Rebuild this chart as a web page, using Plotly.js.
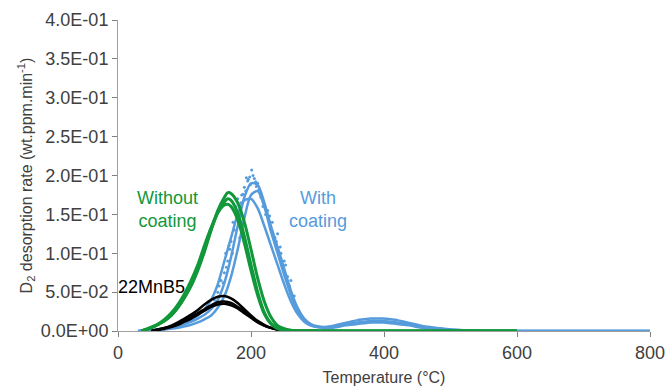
<!DOCTYPE html>
<html>
<head>
<meta charset="utf-8">
<script src="https://cdn.plot.ly/plotly-3.0.1.min.js"></script>
<style>html,body{margin:0;padding:0;background:#fff}#chart{width:670px;height:391px}</style>
</head>
<body>
<div id="chart"></div>
<script>
// Temperatures (°C)
const tGreen = [35,50,60,70,80,90,100,110,120,130,140,150,160,165,170,180,190,200,210,220,230,240,250,260,270,280,300,350,400,450,500,550,600];
const green1 = [0,0.004,0.008,0.013,0.02,0.03,0.043,0.058,0.078,0.102,0.13,0.155,0.172,0.178,0.177,0.165,0.14,0.105,0.068,0.038,0.018,0.007,0.003,0.001,0,0,0,0,0,0,0,0,0];
const green2 = [0,0.004,0.008,0.013,0.02,0.03,0.043,0.06,0.08,0.105,0.13,0.152,0.166,0.17,0.168,0.152,0.122,0.085,0.05,0.024,0.01,0.004,0.001,0,0,0,0,0,0,0,0,0,0];
const green3 = [0,0.005,0.009,0.015,0.023,0.034,0.048,0.065,0.085,0.11,0.133,0.152,0.162,0.163,0.16,0.143,0.113,0.078,0.046,0.022,0.009,0.003,0.001,0,0,0,0,0,0,0,0,0,0];

const tBlack = [50,60,70,80,90,100,110,120,130,140,150,160,170,180,190,200,210,220,230,240,250,260,280,300];
const black1 = [0,0.002,0.004,0.007,0.011,0.016,0.021,0.027,0.034,0.04,0.044,0.045,0.042,0.036,0.028,0.02,0.013,0.008,0.004,0.002,0.001,0,0,0];
const black2 = [0,0.002,0.004,0.006,0.009,0.013,0.018,0.023,0.028,0.033,0.037,0.038,0.036,0.031,0.025,0.018,0.012,0.007,0.004,0.002,0.001,0,0,0];
const black3 = [0,0.001,0.003,0.005,0.008,0.012,0.016,0.021,0.026,0.031,0.034,0.035,0.033,0.029,0.023,0.017,0.011,0.007,0.004,0.002,0.001,0,0,0];

const tBlue = [30,50,70,90,100,110,120,130,140,150,160,170,180,190,200,210,220,230,240,250,260,270,280,290,300,310,320,330,340,350,360,370,380,390,400,410,420,430,440,450,460,480,500,520,550,600,700,800];
const blue1 = [0,0.001,0.003,0.006,0.009,0.012,0.016,0.021,0.028,0.04,0.062,0.095,0.135,0.172,0.19,0.188,0.165,0.135,0.108,0.08,0.052,0.03,0.016,0.009,0.006,0.005,0.006,0.008,0.01,0.012,0.014,0.015,0.016,0.016,0.016,0.015,0.014,0.012,0.01,0.008,0.006,0.004,0.002,0.001,0,0,0,0];
const blue2 = [0,0.001,0.002,0.004,0.006,0.008,0.011,0.015,0.02,0.03,0.045,0.07,0.105,0.145,0.175,0.18,0.16,0.128,0.1,0.072,0.046,0.026,0.014,0.008,0.005,0.004,0.005,0.006,0.008,0.01,0.011,0.012,0.013,0.013,0.013,0.012,0.011,0.01,0.008,0.006,0.005,0.003,0.002,0.001,0,0,0,0];
const blue3 = [0,0.001,0.003,0.007,0.01,0.014,0.02,0.028,0.04,0.06,0.09,0.12,0.15,0.168,0.17,0.158,0.135,0.11,0.085,0.06,0.038,0.022,0.012,0.007,0.005,0.004,0.004,0.005,0.007,0.008,0.009,0.01,0.011,0.011,0.011,0.01,0.009,0.008,0.007,0.005,0.004,0.003,0.001,0.001,0,0,0,0];
// scattered individual points of the "with coating" runs
const tBlueDots = [201,198,205,195,210,190,212,185,178,225,232,240,175,170,165,160,245,250,255,183,172,208,215,192,188,228,236,168,163,158,248,258,262,203,196,218,150,155,162,167,173,177,180,186,145,152,222,230,238,244,252,260,265,199,207,193];
const blueDots  = [0.207,0.198,0.196,0.193,0.19,0.185,0.182,0.165,0.15,0.155,0.14,0.125,0.13,0.115,0.09,0.075,0.1,0.09,0.07,0.12,0.1,0.186,0.172,0.18,0.176,0.148,0.12,0.105,0.082,0.062,0.085,0.058,0.045,0.2,0.195,0.16,0.05,0.065,0.1,0.11,0.14,0.16,0.17,0.175,0.04,0.058,0.15,0.13,0.115,0.108,0.085,0.065,0.045,0.188,0.192,0.197];

const yTickVals = [0,0.05,0.1,0.15,0.2,0.25,0.3,0.35,0.4];
const yTickText = ['0.0E+00','5.0E-02','1.0E-01','1.5E-01','2.0E-01','2.5E-01','3.0E-01','3.5E-01','4.0E-01'];

const GREEN = 'rgb(16,152,58)';
const BLUE = 'rgb(86,155,220)';
const BLACK = 'rgb(0,0,0)';

function line(x, y, color, w) {
  return {x: x, y: y, type: 'scatter', mode: 'lines', line: {color: color, width: w, shape: 'spline', smoothing: 0.8}, hoverinfo: 'skip', showlegend: false};
}

const traces = [
  line(tBlue, blue1, BLUE, 2.5),
  line(tBlue, blue2, BLUE, 2.5),
  line(tBlue, blue3, BLUE, 2.5),
  {x: tBlueDots, y: blueDots, type: 'scatter', mode: 'markers', marker: {color: BLUE, size: 3}, showlegend: false, hoverinfo: 'skip'},
  line(tBlack, black1, BLACK, 2.5),
  line(tBlack, black2, BLACK, 2.5),
  line(tBlack, black3, BLACK, 2.5),
  line(tGreen, green1, GREEN, 3),
  line(tGreen, green2, GREEN, 3),
  line(tGreen, green3, GREEN, 3)
];

const fontFam = 'Arial, "Liberation Sans", sans-serif';
const layout = {
  width: 670, height: 391,
  margin: {l: 118, r: 20, t: 20, b: 60},
  paper_bgcolor: '#fff', plot_bgcolor: '#fff',
  font: {family: fontFam, color: '#404040', size: 17},
  xaxis: {
    range: [0, 800], tickvals: [0,200,400,600,800], ticks: 'outside', ticklen: 5, tickcolor: '#808080',
    showline: true, linecolor: '#a0a0a0', linewidth: 1, showgrid: false, zeroline: false,
    tickfont: {size: 18, color: '#404040'},
    title: {text: 'Temperature (°C)', font: {size: 16, color: '#404040'}, standoff: 10}
  },
  yaxis: {
    range: [0, 0.4], tickvals: yTickVals, ticktext: yTickText, ticks: 'outside', ticklen: 5, tickcolor: '#808080',
    showline: true, linecolor: '#a0a0a0', linewidth: 1, showgrid: false, zeroline: false,
    tickfont: {size: 18, color: '#404040'},
    title: {text: 'D<sub>2</sub> desorption rate (wt.ppm.min<sup>-1</sup>)', font: {size: 16, color: '#404040'}, standoff: 4}
  },
  annotations: [
    {x: 75, y: 0.156, xref: 'x', yref: 'y', text: 'Without<br>coating', showarrow: false, font: {size: 18, color: GREEN, family: fontFam}},
    {x: 301, y: 0.156, xref: 'x', yref: 'y', text: 'With<br>coating', showarrow: false, font: {size: 18, color: BLUE, family: fontFam}},
    {x: 50, y: 0.057, xref: 'x', yref: 'y', text: '22MnB5', showarrow: false, font: {size: 18, color: '#000', family: fontFam}}
  ]
};

Plotly.newPlot('chart', traces, layout, {displayModeBar: false, staticPlot: true});
</script>
</body>
</html>
